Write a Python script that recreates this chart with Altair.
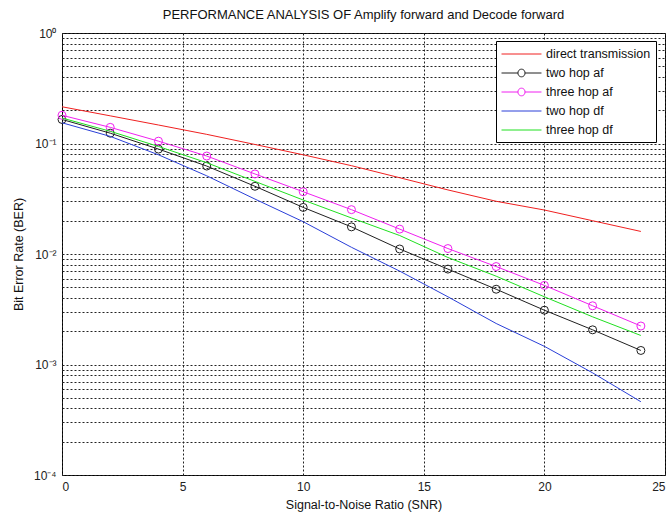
import altair as alt
import pandas as pd

# ---- data ----
snr = [0, 2, 4, 6, 8, 10, 12, 14, 16, 18, 20, 22, 24]
direct_tx = [0.215, 0.178, 0.147, 0.121, 0.098, 0.079, 0.063, 0.049, 0.038, 0.030, 0.025, 0.020, 0.016]
two_hop_af = [0.165, 0.124, 0.089, 0.0625, 0.041, 0.0264, 0.0176, 0.0111, 0.0073, 0.0048, 0.0031, 0.00206, 0.00134]
three_hop_af = [0.18, 0.14, 0.105, 0.077, 0.053, 0.0366, 0.0252, 0.0168, 0.0112, 0.0077, 0.0052, 0.0034, 0.00223]
two_hop_df = [0.154, 0.116, 0.079, 0.051, 0.0314, 0.0196, 0.0115, 0.0070, 0.0041, 0.00235, 0.00146, 0.00084, 0.00046]
three_hop_df = [0.17, 0.129, 0.094, 0.067, 0.0454, 0.0308, 0.0212, 0.0147, 0.0093, 0.0063, 0.0041, 0.0027, 0.00183]

series_names = ["direct transmission", "two hop af", "three hop af", "two hop df", "three hop df"]
series_values = [direct_tx, two_hop_af, three_hop_af, two_hop_df, three_hop_df]
series_colors = ["#f02020", "#202020", "#f020f0", "#2a3fd8", "#20e020"]
has_marker = [False, True, True, False, False]

x_ticks = [0, 5, 10, 15, 20, 25]
y_major = [1, 0.1, 0.01, 0.001, 0.0001]
y_major_labels = ["10⁰", "10⁻¹", "10⁻²", "10⁻³", "10⁻⁴"]
y_ticks = sorted([k * m for m in [0.0001, 0.001, 0.01, 0.1] for k in range(1, 10)] + [1])

FONT = "Liberation Sans"

rows = []
for name, vals in zip(series_names, series_values):
    for s, v in zip(snr, vals):
        rows.append({"series": name, "snr": s, "ber": v})
df = pd.DataFrame(rows)

label_expr = "''"
for v, lab in zip(reversed(y_major), reversed(y_major_labels)):
    label_expr = f"abs(datum.value - {v}) < 1e-9 ? '{lab}' : ({label_expr})"

x_enc = alt.X(
    "snr:Q",
    scale=alt.Scale(domain=[0, 25], nice=False),
    axis=alt.Axis(values=x_ticks, title="Signal-to-Noise Ratio (SNR)", format="d"),
)
y_enc = alt.Y(
    "ber:Q",
    scale=alt.Scale(type="log", domain=[0.0001, 1], nice=False),
    axis=alt.Axis(values=y_ticks, labelExpr=label_expr, title="Bit Error Rate (BER)"),
)

layers = []
for name, col, mk in zip(series_names, series_colors, has_marker):
    base = alt.Chart(df).transform_filter(alt.datum.series == name)
    layers.append(base.mark_line(color=col, strokeWidth=1).encode(x=x_enc, y=y_enc))
    if mk:
        layers.append(
            base.mark_point(shape="circle", filled=False, size=64, color=col, strokeWidth=1, opacity=1)
            .encode(x=x_enc, y=y_enc)
        )

# legend symbols: line sample, with a circle in its middle for the af series
plain_path = "M-1,0H4.33"
marker_path = ("M-1,0H1.2M2.13,0H4.33"
               "M2.13,0A0.467,0.467 0 1 1 1.2,0A0.467,0.467 0 1 1 2.13,0")
legend_paths = [marker_path if m else plain_path for m in has_marker]

legend_kw = dict(
    title=None,
    orient="none",
    legendX=434,
    legendY=8,
    symbolSize=225,
    symbolStrokeWidth=1,
    symbolOpacity=1,
    symbolFillColor="transparent",
    labelOffset=29,
    labelFont=FONT,
    labelFontSize=12.5,
    labelColor="#111",
    labelLimit=300,
    strokeColor="#000",
    fillColor="white",
    padding=5,
    rowPadding=4,
    cornerRadius=0,
)

legend_layer = (
    alt.Chart(df)
    .transform_filter(alt.datum.snr == 0)
    .mark_point(filled=False, opacity=0)
    .encode(
        x=x_enc,
        y=y_enc,
        color=alt.Color("series:N", scale=alt.Scale(domain=series_names, range=series_colors),
                        legend=alt.Legend(**legend_kw)),
        shape=alt.Shape("series:N", scale=alt.Scale(domain=series_names, range=legend_paths),
                        legend=alt.Legend(**legend_kw)),
    )
)
layers.append(legend_layer)

chart = (
    alt.layer(*layers)
    .properties(
        width=603,
        height=442,
        autosize=alt.AutoSizeParams(type="none"),
        padding={"left": 62, "top": 33, "right": 5, "bottom": 42},
        background="white",
        title=alt.TitleParams(
            "PERFORMANCE ANALYSIS OF Amplify forward and Decode forward",
            font=FONT, fontSize=13, fontWeight="normal", color="#111", offset=5, anchor="middle",
        ),
    )
    .configure_view(stroke="#000", strokeWidth=1)
    .configure_axis(
        grid=True,
        gridColor="#222",
        gridDash=[2, 2],
        gridWidth=1,
        gridOpacity=1,
        domain=False,
        ticks=False,
        labelFont=FONT,
        labelFontSize=12,
        labelColor="#222",
        titleFont=FONT,
        titleFontSize=12.5,
        titleFontWeight="normal",
        titleColor="#111",
    )
    .configure_axisX(labelPadding=6, titlePadding=6)
    .configure_axisY(labelPadding=6, titlePadding=8)
)

chart.save("out.html", embed_options={"renderer": "svg", "actions": False})
